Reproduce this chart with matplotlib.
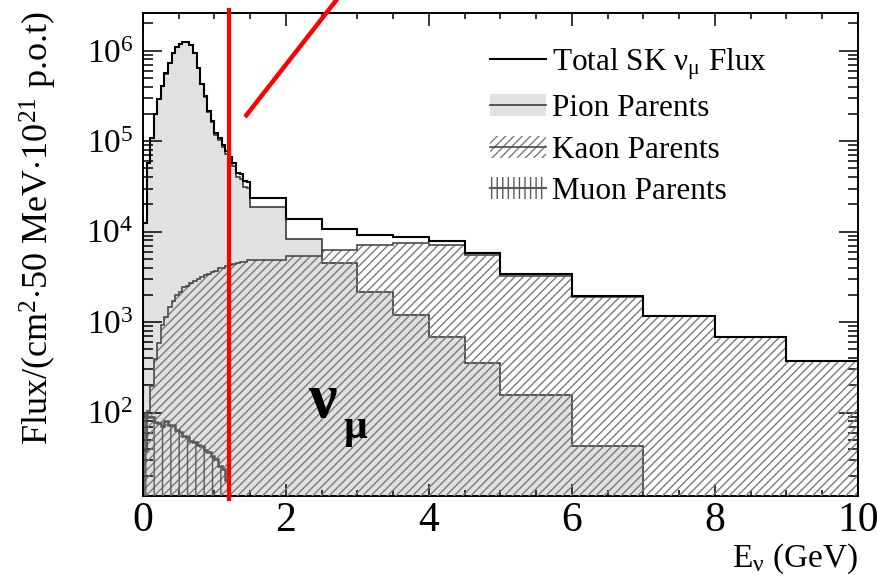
import numpy as np
import matplotlib
matplotlib.use("Agg")
import matplotlib.pyplot as plt
from matplotlib.patches import Patch
from matplotlib.lines import Line2D
from matplotlib.ticker import MultipleLocator, LogLocator, LogFormatterMathtext, NullFormatter

plt.rcParams['font.family'] = ['Liberation Serif', 'DejaVu Serif']
plt.rcParams['mathtext.fontset'] = 'custom'
plt.rcParams['mathtext.rm'] = 'Liberation Serif'
plt.rcParams['mathtext.it'] = 'Liberation Serif:italic'
plt.rcParams['mathtext.bf'] = 'Liberation Serif:bold'
plt.rcParams['hatch.linewidth'] = 1.0

# ---- binning (GeV): 50 MeV bins up to 1.5 GeV, then coarser bins ----
fine_edges = np.round(np.arange(0.0, 1.5001, 0.05), 3)
coarse_edges = [2.0, 2.5, 3.0, 3.5, 4.0, 4.5, 5.0, 6.0, 7.0, 8.0, 9.0, 10.0]
energy_edges = np.concatenate([fine_edges, coarse_edges])

# ---- SK nu_mu flux by parent type (per cm^2 per 50 MeV per 1e21 p.o.t) ----
pion_flux = [
    1.24e4, 5.68e4, 1.08e5, 1.99e5, 2.89e5, 4.09e5, 5.59e5, 7.23e5, 9.38e5, 1.098e6,
    1.178e6, 1.257e6, 1.257e6, 1.157e6, 9.37e5, 6.37e5, 4.30e5, 3.10e5, 2.10e5, 1.65e5,
    1.18e5, 1.04e5, 8.7e4, 7.3e4, 6.2e4, 5.26e4, 4.05e4, 3.84e4, 3.13e4, 3.02e4,
    1.89e4, 8.4e3, 4.48e3, 2.14e3, 1.2e3, 690, 357, 157, 43,
]
kaon_flux = [
    38, 105, 195, 390, 590, 920, 1130, 1470, 1730, 2010,
    2180, 2420, 2530, 2720, 2830, 3020, 3120, 3330, 3420, 3630,
    3720, 3930, 4020, 4230, 4280, 4430, 4480, 4630, 4680, 4820,
    4.9e3, 5.4e3, 6.3e3, 7.1e3, 7.45e3, 7.2e3, 5.5e3, 3.25e3, 1.9e3, 1.18e3, 690, 376,
]
muon_flux = [
    96, 90, 89, 79, 77, 72, 80, 74, 73, 64,
    61, 55, 54, 49, 48, 44, 43, 39, 37, 33,
    31, 26, 24, 18,
]

pion_flux = np.array(pion_flux, dtype=float)
kaon_flux = np.array(kaon_flux, dtype=float)
muon_flux = np.array(muon_flux, dtype=float)
pion_edges = energy_edges[:len(pion_flux) + 1]
muon_edges = energy_edges[:len(muon_flux) + 1]

total_flux = kaon_flux.copy()
total_flux[:len(pion_flux)] += pion_flux
total_flux[:len(muon_flux)] += muon_flux

# ---- figure ----
W, H = 878, 582
fig = plt.figure(figsize=(W / 100, H / 100), dpi=100)
ax = fig.add_axes([143 / W, 1 - 496 / H, 715 / W, 482.7 / H])
ax.set_yscale('log')
ax.set_xlim(0, 10)
ax.set_ylim(12.0, 2.59e6)

BASE = 1.0
pion_fill = '#e1e1e1'
pion_line = '#3c3c3c'
hatch_col = '#7a7a7a'
kaon_line = '#4a4a4a'
muon_col = '#5a5a5a'

ax.stairs(pion_flux, pion_edges, baseline=BASE, fill=True,
          facecolor=pion_fill, edgecolor='none', zorder=1)
ax.stairs(pion_flux, pion_edges, baseline=BASE, fill=False,
          color=pion_line, lw=1.2, zorder=2)

ax.stairs(kaon_flux, energy_edges, baseline=BASE, fill=True,
          facecolor='none', edgecolor=hatch_col, hatch='////', lw=0, zorder=3)
ax.stairs(kaon_flux, energy_edges, baseline=BASE, fill=False,
          color=kaon_line, lw=1.2, zorder=4)

ax.stairs(muon_flux, muon_edges, baseline=BASE, fill=True,
          facecolor='none', edgecolor=muon_col, hatch='||', lw=0, zorder=5)
ax.stairs(muon_flux, muon_edges, baseline=BASE, fill=False,
          color=muon_col, lw=1.8, zorder=6)

ax.stairs(total_flux, energy_edges, baseline=BASE, fill=False,
          color='black', lw=1.5, zorder=7)

# ---- axes styling ----
for sp in ax.spines.values():
    sp.set_linewidth(1.4)
ax.xaxis.set_major_locator(MultipleLocator(2))
ax.xaxis.set_minor_locator(MultipleLocator(0.5))
ax.yaxis.set_major_locator(LogLocator(base=10, numticks=20))
ax.yaxis.set_minor_locator(LogLocator(base=10, subs=np.arange(2, 10), numticks=20))
ax.yaxis.set_major_formatter(LogFormatterMathtext())
ax.yaxis.set_minor_formatter(NullFormatter())
ax.tick_params(which='both', direction='in', top=True, right=True, width=1.1)
ax.xaxis.set_tick_params(which='major', length=9, labelsize=30, pad=4)
ax.xaxis.set_tick_params(which='minor', length=4.5)
ax.yaxis.set_tick_params(which='major', length=14, labelsize=24, pad=7)
ax.yaxis.set_tick_params(which='minor', length=7)

ax.set_ylabel('Flux/(cm$^{2}$$\\cdot$50 MeV$\\cdot$10$^{21}$ p.o.t)',
              fontsize=26, loc='top')
ax.yaxis.set_label_coords(-0.118, 1.004)
ax.set_xlabel('E$_{\\mathregular{ν}}$ (GeV)', fontsize=24, loc='right', labelpad=1)

# ---- legend ----
handles = [
    Line2D([], [], color='black', lw=1.5),
    (Patch(facecolor=pion_fill, edgecolor='none'), Line2D([], [], color=pion_line, lw=1.2)),
    (Patch(facecolor='none', edgecolor=hatch_col, hatch='////', lw=0),
     Line2D([], [], color=kaon_line, lw=1.2)),
    (Patch(facecolor='none', edgecolor=muon_col, hatch='|||', lw=0),
     Line2D([], [], color=muon_col, lw=1.5)),
]
labels = ['Total SK ν$_{\\mathregular{μ}}$ Flux', 'Pion Parents',
          'Kaon Parents', 'Muon Parents']
ax.legend(handles, labels, loc='upper left', frameon=False, fontsize=22.5,
          bbox_to_anchor=(490 / W, 1 - 46 / H), bbox_transform=fig.transFigure,
          borderpad=0, borderaxespad=0, handlelength=1.8, handleheight=0.7,
          handletextpad=0.2, labelspacing=0.4)

# ---- nu_mu annotation ----
fig.text(322 / W, 1 - 402 / H, 'ν', fontsize=46, fontweight='bold',
         ha='center', va='center')
fig.text(355 / W, 1 - 428 / H, 'μ', fontsize=30, fontweight='bold',
         ha='center', va='center')

# ---- red markers ----
ax.plot([1.207, 1.207], [-0.006, 1.007], color='red', lw=3,
        transform=ax.get_xaxis_transform(), clip_on=False, zorder=10)
fig.add_artist(Line2D([245 / W, 338 / W], [1 - 117 / H, 1 + 2 / H],
                      color='red', lw=3.2, solid_capstyle='butt'))

fig.savefig('out.png', dpi=100)
